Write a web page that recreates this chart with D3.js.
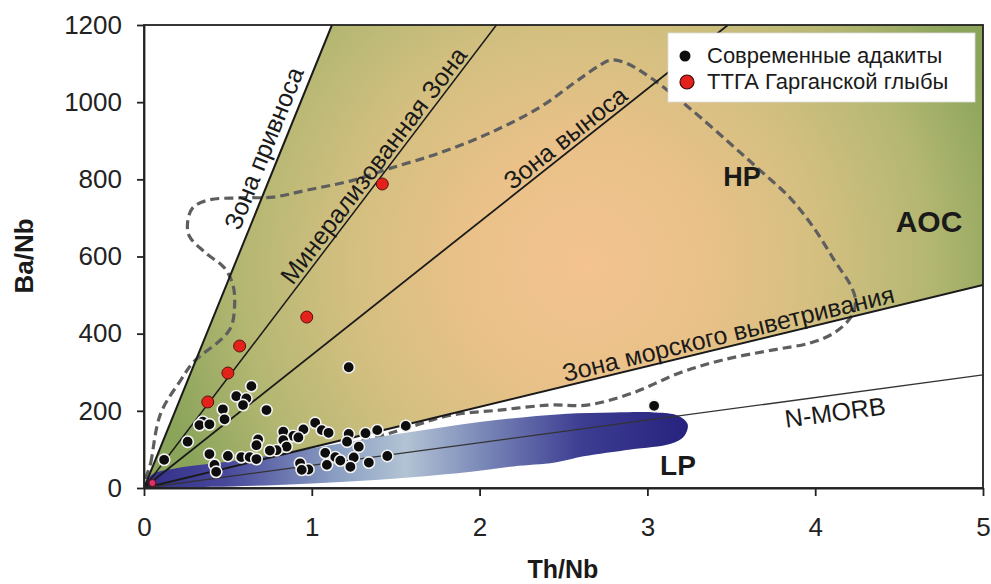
<!DOCTYPE html>
<html><head><meta charset="utf-8">
<script src="https://cdn.jsdelivr.net/npm/d3@7"></script>
<style>body{margin:0;background:#fff} svg{display:block} text{font-family:"Liberation Sans",Arial,sans-serif}</style>
</head><body><svg id="c" width="991" height="584"></svg>
<script>
// ---- data ----
const xTicks = [0, 1, 2, 3, 4, 5];
const yTicks = [0, 200, 400, 600, 800, 1000, 1200];
const lineNames = ["Зона привноса", "Минерализованная Зона", "Зона выноса", "Зона морского выветривания", "N-MORB"];
const lineEndX = [1.12, 2.10, 3.48, 5, 5];
const lineEndY = [1200, 1200, 1200, 526, 293];
const adakiteX = [1.22,0.64,0.55,0.61,0.59,0.73,0.47,0.48,0.35,0.33,0.39,0.26,0.12,1.02,0.95,1.06,1.10,0.83,0.89,0.92,0.83,0.68,0.67,0.85,0.79,0.75,1.22,1.21,1.32,1.39,1.56,1.28,1.08,1.14,1.17,1.25,1.45,1.34,1.23,1.09,0.93,0.98,0.94,0.39,0.50,0.58,0.63,0.67,0.42,0.43,3.04];
const adakiteY = [313,264,238,232,215,202,204,178,172,163,165,120,73,169,152,150,143,146,135,131,124,126,111,107,98,97,140,120,142,150,161,107,91,80,71,79,83,66,55,60,64,48,47,88,83,80,80,75,60,42,213];
const ttgX = [1.42, 0.97, 0.57, 0.50, 0.38, 0.05];
const ttgY = [788, 443, 368, 298, 223, 13];
const hpX = [0.01,0.04,0.10,0.22,0.29,0.51,0.54,0.53,0.48,0.36,0.27,0.26,0.29,0.38,0.57,0.77,0.97,1.25,1.47,1.76,2.06,2.36,2.57,2.71,2.78,2.87,3.02,3.25,3.49,3.67,3.85,4.00,4.12,4.21,4.24,4.22,4.12,3.97,3.75,3.45,3.19,2.91,2.64,2.42,2.12,1.82,1.60,1.40,1.10,0.80,0.50,0.25];
const hpY = [5,65,194,280,324,410,474,526,570,612,653,689,726,746,752,754,772,798,829,868,920,987,1052,1094,1109,1102,1063,985,894,824,752,669,586,526,487,448,404,376,358,332,298,246,215,215,202,188,160,134,100,72,45,22];
const lpX = [0,0.05,0.2,0.5,0.9,1.3,1.7,2.1,2.5,2.8,3.05,3.18,3.24,3.22,3.14,2.9,2.62,2.45,2.2,1.95,1.6,1.2,0.8,0.4,0.1];
const lpY = [0,35,52,68,95,125,152,176,192,196,196,188,165,135,115,100,82,66,56,42,28,16,8,3,0];
const aocX = [0, 1.12, 5, 5];
const aocY = [0, 1200, 1200, 526];
const legendLabels = ["Современные адакиты", "ТТГА Гарганской глыбы"];

// ---- layout ----
const svg = d3.select("#c");
const x = d3.scaleLinear().domain([0, 5]).range([144, 983]);
const y = d3.scaleLinear().domain([0, 1200]).range([488, 25]);
const defs = svg.append("defs");
defs.append("clipPath").attr("id", "clip").append("rect")
  .attr("x", 144).attr("y", 25).attr("width", 839).attr("height", 463);

const rg = defs.append("radialGradient").attr("id", "aocG").attr("gradientUnits", "userSpaceOnUse")
  .attr("cx", 585).attr("cy", 265).attr("r", 440);
[[0, "#f4c390"], [0.3, "#e8c188"], [0.55, "#d2bf80"], [0.78, "#b4b772"], [1, "#8aa45a"]]
  .forEach(s => rg.append("stop").attr("offset", s[0]).attr("stop-color", s[1]));

const lg = defs.append("linearGradient").attr("id", "lpG").attr("gradientUnits", "userSpaceOnUse")
  .attr("x1", 144).attr("x2", 690).attr("y1", 0).attr("y2", 0);
[[0, "#332e8a"], [0.15, "#48489a"], [0.35, "#8a9ec2"], [0.48, "#b2c3d4"], [0.62, "#7a88b8"], [0.8, "#3d3d92"], [1, "#26227e"]]
  .forEach(s => lg.append("stop").attr("offset", s[0]).attr("stop-color", s[1]));

const g = svg.append("g").attr("clip-path", "url(#clip)");
const idx = a => a.map((_, i) => i);

// AOC wedge
g.append("path").datum(idx(aocX))
  .attr("d", d3.line().x(i => x(aocX[i])).y(i => y(aocY[i])).curve(d3.curveLinearClosed))
  .attr("fill", "url(#aocG)");

// HP contour
g.append("path").datum(idx(hpX))
  .attr("d", d3.line().x(i => x(hpX[i])).y(i => y(hpY[i])).curve(d3.curveCatmullRomClosed.alpha(0.5)))
  .attr("fill", "none").attr("stroke", "#5e5e5e").attr("stroke-width", 3.2)
  .attr("stroke-dasharray", "9,5");

// LP blob
g.append("path").datum(idx(lpX))
  .attr("d", d3.line().x(i => x(lpX[i])).y(i => y(lpY[i])).curve(d3.curveCatmullRomClosed.alpha(0.5)))
  .attr("fill", "url(#lpG)");

// reference lines
const lw = [2, 1.5, 1.8, 2, 1.3];
g.selectAll("line.ref").data(idx(lineNames)).join("line").attr("class", "ref")
  .attr("x1", x(0)).attr("y1", y(0))
  .attr("x2", i => x(lineEndX[i])).attr("y2", i => y(lineEndY[i]))
  .attr("stroke", (d, i) => i === 4 ? "#333" : "#1a1a1a").attr("stroke-width", i => lw[i]);

// line labels
const lab = [{f: 0.72, o: -8}, {f: 0.68, o: -4}, {f: 0.735, o: -4}, {f: 0.70, o: -4}, {f: 0.821, o: 26}];
lineNames.forEach((n, i) => {
  const x0 = x(0), y0 = y(0), x1 = x(lineEndX[i]), y1 = y(lineEndY[i]);
  const a = Math.atan2(y1 - y0, x1 - x0) * 180 / Math.PI;
  const px = x0 + (x1 - x0) * lab[i].f, py = y0 + (y1 - y0) * lab[i].f;
  svg.append("text").attr("transform", `translate(${px},${py}) rotate(${a})`)
    .attr("y", lab[i].o).attr("text-anchor", "middle")
    .attr("font-size", 25).attr("fill", "#1a1a1a").text(n);
});

// region labels
svg.append("text").attr("x", 742).attr("y", 186).attr("text-anchor", "middle")
  .attr("font-size", 27).attr("font-weight", "bold").attr("fill", "#1a1a1a").text("HP");
svg.append("text").attr("x", 929).attr("y", 232).attr("text-anchor", "middle")
  .attr("font-size", 30).attr("font-weight", "bold").attr("fill", "#1a1a1a").text("AOC");
svg.append("text").attr("x", 678).attr("y", 475).attr("text-anchor", "middle")
  .attr("font-size", 28).attr("font-weight", "bold").attr("fill", "#1a1a1a").text("LP");

// points
svg.append("g").selectAll("circle").data(idx(adakiteX)).join("circle")
  .attr("cx", i => x(adakiteX[i])).attr("cy", i => y(adakiteY[i])).attr("r", 5.7)
  .attr("fill", "#0d0d0d").attr("stroke", "#f2f2f2").attr("stroke-width", 1.6);
svg.append("g").selectAll("circle").data(idx(ttgX)).join("circle")
  .attr("cx", i => x(ttgX[i])).attr("cy", i => y(ttgY[i])).attr("r", i => i === 5 ? 3.5 : 6)
  .attr("fill", i => i === 5 ? "#e0306a" : "#e3221c").attr("stroke", "#5a1010").attr("stroke-width", 1);

// legend
const leg = svg.append("g");
leg.append("rect").attr("x", 668).attr("y", 33).attr("width", 307).attr("height", 69)
  .attr("fill", "#fff").attr("stroke", "#ddd").attr("stroke-width", 0.8);
leg.append("circle").attr("cx", 685).attr("cy", 56).attr("r", 5.5).attr("fill", "#0d0d0d");
leg.append("circle").attr("cx", 687).attr("cy", 82).attr("r", 7).attr("fill", "#e3221c")
  .attr("stroke", "#3a0a0a").attr("stroke-width", 1.2);
legendLabels.forEach((t, i) => leg.append("text").attr("x", 707).attr("y", 63 + i * 26)
  .attr("font-size", 22).attr("fill", "#1a1a1a").text(t));

// frame & axes
svg.append("rect").attr("x", 144).attr("y", 25).attr("width", 839).attr("height", 463)
  .attr("fill", "none").attr("stroke", "#222").attr("stroke-width", 1.8);
const ax = svg.append("g").attr("transform", "translate(0,488)")
  .call(d3.axisBottom(x).tickValues(xTicks).tickFormat(d3.format("d")).tickSize(8).tickSizeOuter(0).tickPadding(22));
const ay = svg.append("g").attr("transform", "translate(144,0)")
  .call(d3.axisLeft(y).tickValues(yTicks).tickFormat(d3.format("d")).tickSize(7).tickSizeOuter(0).tickPadding(15));
[ax, ay].forEach(a => {
  a.select(".domain").attr("stroke", "#222").attr("stroke-width", 1.8);
  a.selectAll(".tick line").attr("stroke", "#222").attr("stroke-width", 1.8);
  a.selectAll(".tick text").attr("font-size", 26).attr("fill", "#222")
    .attr("font-family", "'Liberation Sans', Arial, sans-serif");
});
svg.append("text").attr("transform", "translate(33,256) rotate(-90)").attr("text-anchor", "middle")
  .attr("font-size", 26).attr("font-weight", "bold").attr("fill", "#1a1a1a").text("Ba/Nb");
svg.append("text").attr("x", 563).attr("y", 578).attr("text-anchor", "middle")
  .attr("font-size", 25).attr("font-weight", "bold").attr("fill", "#1a1a1a").text("Th/Nb");
</script></body></html>
